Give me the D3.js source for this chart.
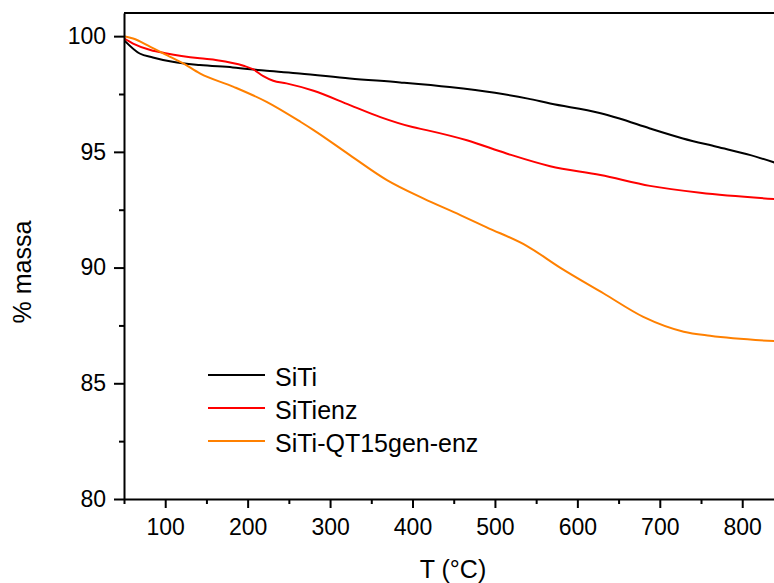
<!DOCTYPE html>
<html><head><meta charset="utf-8">
<script src="https://cdn.jsdelivr.net/npm/d3@7"></script>
<style>
body{margin:0;background:#fff;}
text{font-family:"Liberation Sans",Arial,sans-serif;}
</style></head><body>
<svg id="c" width="774" height="583"></svg>
<script>
// Data
const seriesNames = ["SiTi", "SiTienz", "SiTi-QT15gen-enz"];
const seriesColors = ["#000000", "#ff0000", "#ff8000"];
const tSiTi   = [50, 69, 85, 109, 142, 182, 223, 263, 324, 385, 445, 500, 540, 567, 627, 650, 688, 728, 769, 810, 840];
const mSiTi   = [99.83, 99.25, 99.08, 98.89, 98.75, 98.65, 98.50, 98.39, 98.17, 98.0, 97.8, 97.55, 97.3, 97.09, 96.68, 96.45, 96.01, 95.58, 95.22, 94.86, 94.53];
const tSiTienz = [50, 61, 82, 102, 142, 163, 195, 207, 219, 231, 247, 280, 324, 361, 400, 417, 466, 514, 567, 628, 688, 749, 840];
const mSiTienz = [99.9, 99.68, 99.4, 99.25, 99.04, 98.96, 98.72, 98.56, 98.27, 98.07, 97.96, 97.64, 97.02, 96.5, 96.07, 95.94, 95.5, 94.93, 94.38, 94.0, 93.53, 93.23, 92.96];
const tQT = [50, 61, 82, 102, 122, 142, 183, 223, 264, 280, 324, 369, 413, 458, 490, 539, 579, 632, 680, 729, 761, 840];
const mQT = [100.0, 99.9, 99.54, 99.18, 98.82, 98.39, 97.81, 97.16, 96.3, 95.94, 94.86, 93.78, 92.99, 92.27, 91.74, 90.93, 90.0, 88.88, 87.87, 87.23, 87.05, 86.82];
const xMajorTicks = [100, 200, 300, 400, 500, 600, 700, 800];
const xMinorTicks = [50, 150, 250, 350, 450, 550, 650, 750];
const yMajorTicks = [80, 85, 90, 95, 100];
const yMinorTicks = [82.5, 87.5, 92.5, 97.5];
const xTitle = "T (°C)";
const yTitle = "% massa";

const svg = d3.select("#c");
const padL = 124, padT = 13, padB = 499;
const x = d3.scaleLinear().domain([50, 840]).range([padL, padL + 790 * 0.8243]);
const y = d3.scaleLinear().domain([80, 101]).range([padB, padT]);
const padR = x.range()[1];

const series = [
  {name: seriesNames[0], color: seriesColors[0], t: tSiTi, m: mSiTi},
  {name: seriesNames[1], color: seriesColors[1], t: tSiTienz, m: mSiTienz},
  {name: seriesNames[2], color: seriesColors[2], t: tQT, m: mQT}
];

const line = d3.line().x(d => x(d[0])).y(d => y(d[1])).curve(d3.curveMonotoneX);
svg.append("defs").append("clipPath").attr("id","clip").append("rect")
  .attr("x", padL).attr("y", padT).attr("width", padR-padL).attr("height", padB-padT);
const g = svg.append("g").attr("clip-path","url(#clip)");
series.forEach(s => {
  g.append("path").datum(s.t.map((t,i)=>[t, s.m[i]]))
    .attr("d", line).attr("fill","none").attr("stroke", s.color).attr("stroke-width", 2);
});

// frame top / right
svg.append("line").attr("x1", padL).attr("x2", padR).attr("y1", padT).attr("y2", padT)
  .attr("stroke","#000").attr("stroke-width",2);
svg.append("line").attr("x1", padR).attr("x2", padR).attr("y1", padT).attr("y2", padB)
  .attr("stroke","#000").attr("stroke-width",2);

function styleAxis(sel){
  sel.select(".domain").attr("stroke-width",2);
  sel.selectAll(".tick line").attr("stroke-width",2);
  sel.selectAll("text").attr("font-family",'"Liberation Sans",Arial,sans-serif').attr("font-size",23).attr("fill","#000");
}
// x axis
const xMin = svg.append("g").attr("transform",`translate(0,${padB})`)
  .call(d3.axisBottom(x).tickValues(xMinorTicks).tickSize(5).tickFormat(""));
xMin.select(".domain").remove(); styleAxis(xMin);
const xAx = svg.append("g").attr("transform",`translate(0,${padB})`)
  .call(d3.axisBottom(x).tickValues(xMajorTicks).tickSize(9).tickSizeOuter(0).tickPadding(11).tickFormat(d3.format("d")));
styleAxis(xAx);
// y axis
const yMin = svg.append("g").attr("transform",`translate(${padL},0)`)
  .call(d3.axisLeft(y).tickValues(yMinorTicks).tickSize(5).tickFormat(""));
yMin.select(".domain").remove(); styleAxis(yMin);
const yAx = svg.append("g").attr("transform",`translate(${padL},0)`)
  .call(d3.axisLeft(y).tickValues(yMajorTicks).tickSize(10).tickSizeOuter(0).tickPadding(8).tickFormat(d3.format("d")));
styleAxis(yAx);

// titles
svg.append("text").attr("x", 453).attr("y", 578).attr("text-anchor","middle")
  .attr("font-size",25).text(xTitle);
svg.append("text").attr("transform","translate(31,272) rotate(-90)").attr("text-anchor","middle")
  .attr("font-size",25).text(yTitle);

// legend
const lg = svg.append("g");
series.forEach((s,i) => {
  const yy = 375 + i*33;
  lg.append("line").attr("x1",208).attr("x2",265).attr("y1",yy).attr("y2",yy)
    .attr("stroke", s.color).attr("stroke-width",2);
  lg.append("text").attr("x",275).attr("y",yy+11).attr("font-size",25).text(s.name);
});
</script>
</body></html>
